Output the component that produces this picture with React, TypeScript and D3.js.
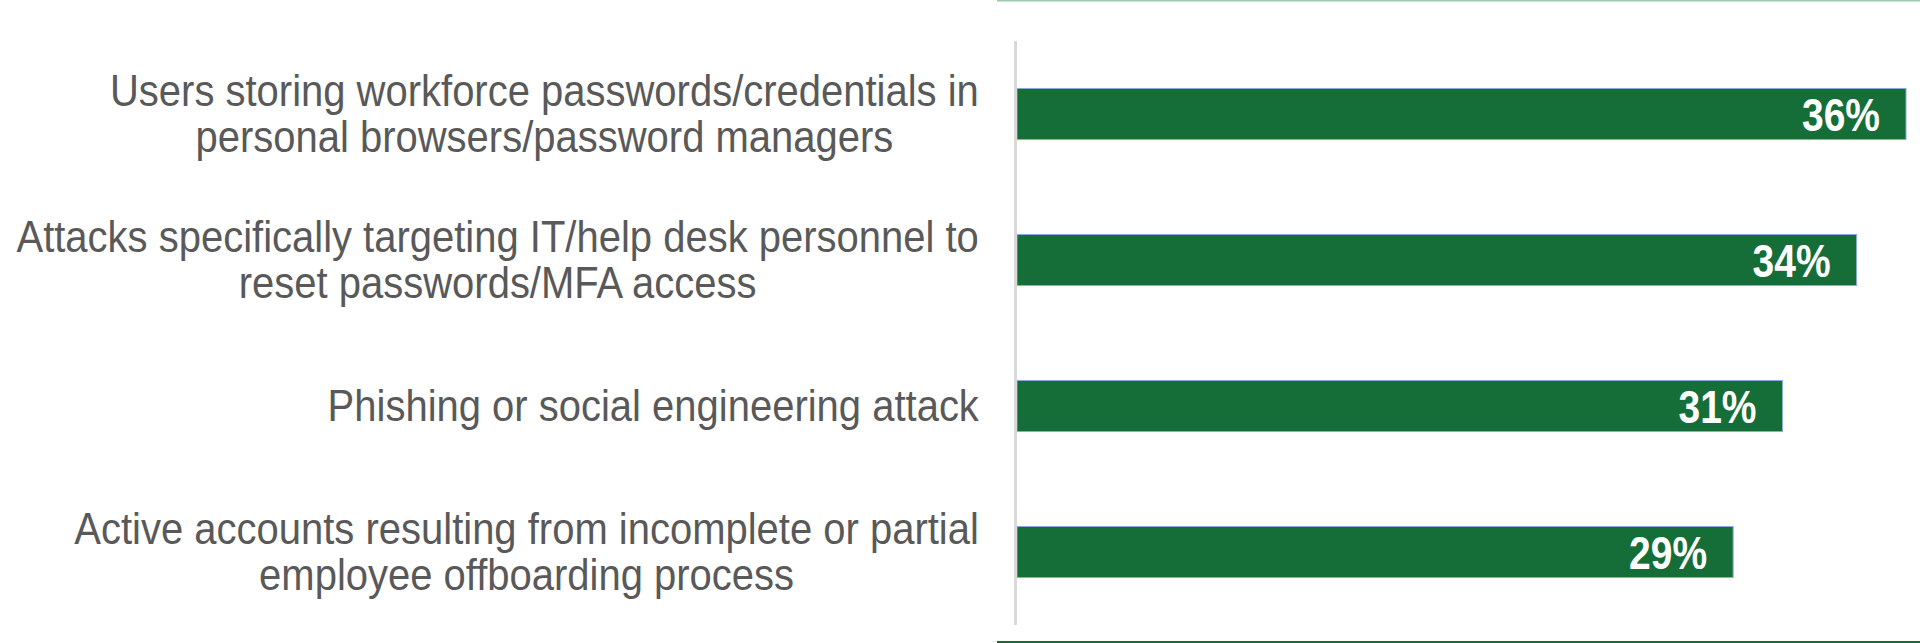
import React, { useRef, useEffect } from 'react';
import * as d3 from 'd3';

const categories = [
  ['Users storing workforce passwords/credentials in', 'personal browsers/password managers'],
  ['Attacks specifically targeting IT/help desk personnel to', 'reset passwords/MFA access'],
  ['Phishing or social engineering attack'],
  ['Active accounts resulting from incomplete or partial', 'employee offboarding process'],
];
const values = [36, 34, 31, 29];

const W = 1920;
const H = 643;

const App: React.FC = () => {
  const svgRef = useRef<SVGSVGElement>(null);

  useEffect(() => {
    document.body.style.margin = '0';
    if (!svgRef.current) return;
    const svg = d3.select(svgRef.current);
    svg.selectAll('*').remove();

    const x = d3.scaleLinear().domain([0, 36]).range([1017, 1906]);
    const y = d3.scaleBand<number>()
      .domain(d3.range(values.length))
      .range([41, 625])
      .paddingInner(0.65)
      .paddingOuter(0.325);

    // frame lines top / bottom
    svg.append('line')
      .attr('x1', 997).attr('x2', W).attr('y1', 0.5).attr('y2', 0.5)
      .attr('stroke', '#9cc9a9').attr('stroke-width', 2);
    svg.append('line')
      .attr('x1', 997).attr('x2', W).attr('y1', 642).attr('y2', 642)
      .attr('stroke', '#146c37').attr('stroke-width', 2);

    // bars
    svg.append('g')
      .selectAll('rect')
      .data(values)
      .enter()
      .append('rect')
      .attr('x', x(0))
      .attr('y', (_, i) => y(i)!)
      .attr('width', d => x(d) - x(0))
      .attr('height', y.bandwidth())
      .attr('fill', '#156e38')
      .attr('stroke', '#8eaadb')
      .attr('stroke-width', 1);

    // vertical axis line
    svg.append('line')
      .attr('x1', 1015.5).attr('x2', 1015.5).attr('y1', 41).attr('y2', 625)
      .attr('stroke', '#d9d9d9').attr('stroke-width', 3);

    // value labels (slightly tall glyphs, like the original)
    svg.append('g')
      .selectAll('text')
      .data(values)
      .enter()
      .append('text')
      .attr('transform', (d, i) => `translate(${x(d) - 26},${y(i)! + y.bandwidth() / 2 + 17}) scale(1,1.2)`)
      .attr('text-anchor', 'end')
      .attr('font-family', 'Liberation Sans, Arial, sans-serif')
      .attr('font-size', '39px')
      .attr('font-weight', 700)
      .attr('fill', '#fff')
      .text(d => d + '%');

    // category labels: block right-aligned, lines centred to each other
    const labelRight = 979;
    const lineH = 46;
    const sy = 1.1;
    categories.forEach((lines, i) => {
      const g = svg.append('g');
      const cy = y(i)! + y.bandwidth() / 2;
      const texts = lines.map(ln =>
        g.append('text')
          .attr('text-anchor', 'middle')
          .attr('font-family', 'Liberation Sans, Arial, sans-serif')
          .attr('font-size', '40px')
          .attr('fill', '#595959')
          .text(ln)
      );
      const maxW = d3.max(texts, t => (t.node() as SVGTextElement).getComputedTextLength()) || 0;
      texts.forEach((t, j) => {
        const by = cy + 15 + (j - (lines.length - 1) / 2) * lineH;
        t.attr('transform', `translate(${labelRight - maxW / 2},${by}) scale(1,${sy})`);
      });
    });
  }, []);

  return <svg ref={svgRef} width={W} height={H} style={{ display: 'block', background: '#fff' }} />;
};

export default App;
